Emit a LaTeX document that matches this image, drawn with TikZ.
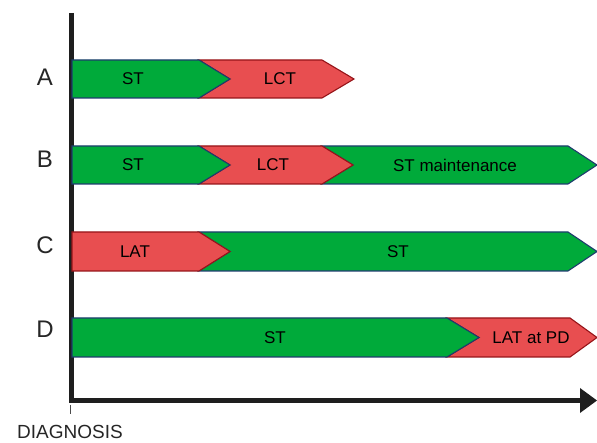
\documentclass[tikz,border=0pt]{standalone}
\usepackage{fontspec}
\setmainfont{Liberation Sans}
\definecolor{bargreen}{RGB}{0,170,58}
\definecolor{barred}{RGB}{232,78,80}
\definecolor{greenedge}{RGB}{30,60,110}
\definecolor{rededge}{RGB}{150,20,25}
\definecolor{axisgray}{RGB}{30,30,30}
\begin{document}
\begin{tikzpicture}[x=1pt,y=-1pt,
  gbar/.style={fill=bargreen,draw=greenedge,line width=1.1pt,line join=miter},
  rbar/.style={fill=barred,draw=rededge,line width=1.1pt,line join=miter},
  bartext/.style={font=\fontsize{17}{20}\selectfont,text=black,inner sep=0pt},
  rowlabel/.style={font=\fontsize{24}{28}\selectfont,text=black!85,inner sep=0pt},
  axisline/.style={draw=axisgray,line width=4.5pt,line join=miter}]
\useasboundingbox (0,0) rectangle (597,443);
% Axes
\coordinate (ytop) at (71.5,13);
\coordinate (origin) at (71.5,400.5);
\coordinate (xend) at (582,400.5);
\draw[axisline] (ytop) -- (origin) -- (xend);
\fill[axisgray] (580,388) -- (597,400.5) -- (580,413) -- cycle;
\coordinate (tickA) at (70,405);
\coordinate (tickB) at (70,414);
\draw[black!70,line width=0.8pt] (tickA) -- (tickB);
\node[font=\fontsize{19}{22}\selectfont,text=black!85,inner sep=0pt] (diag) at (70,432) {DIAGNOSIS};
% Row labels
\node[rowlabel] (la) at (45,77) {A};
\node[rowlabel] (lb) at (45,159) {B};
\node[rowlabel] (lc) at (45,245) {C};
\node[rowlabel] (ld) at (45,329) {D};
% Row A
\draw[rbar] (199,60) -- (322,60) -- (354,79) -- (322,98) -- (199,98) -- (230,79) -- cycle;
\draw[gbar] (72,60) -- (199,60) -- (230,79) -- (199,98) -- (72,98) -- cycle;
\node[bartext] (a1) at (133,79) {ST};
\node[bartext] (a2) at (280,79) {LCT};
% Row B
\draw[gbar] (322,146) -- (568,146) -- (597,165) -- (568,184) -- (322,184) -- (353,165) -- cycle;
\draw[rbar] (199,146) -- (322,146) -- (353,165) -- (322,184) -- (199,184) -- (230,165) -- cycle;
\draw[gbar] (72,146) -- (199,146) -- (230,165) -- (199,184) -- (72,184) -- cycle;
\node[bartext] (b1) at (133,165) {ST};
\node[bartext] (b2) at (273,165) {LCT};
\node[bartext] (b3) at (455,165) {ST maintenance};
% Row C
\draw[gbar] (199,232) -- (568,232) -- (597,251.5) -- (568,271) -- (199,271) -- (230,251.5) -- cycle;
\draw[rbar] (72,232) -- (199,232) -- (230,251.5) -- (199,271) -- (72,271) -- cycle;
\node[bartext] (c1) at (135,251.5) {LAT};
\node[bartext] (c2) at (398,251.5) {ST};
% Row D
\draw[rbar] (447,318) -- (570,318) -- (597,337.5) -- (570,357) -- (447,357) -- (479,337.5) -- cycle;
\draw[gbar] (72,318) -- (447,318) -- (479,337.5) -- (447,357) -- (72,357) -- cycle;
\node[bartext] (d1) at (275,337.5) {ST};
\node[bartext] (d2) at (531,337.5) {LAT at PD};
\end{tikzpicture}
\end{document}
